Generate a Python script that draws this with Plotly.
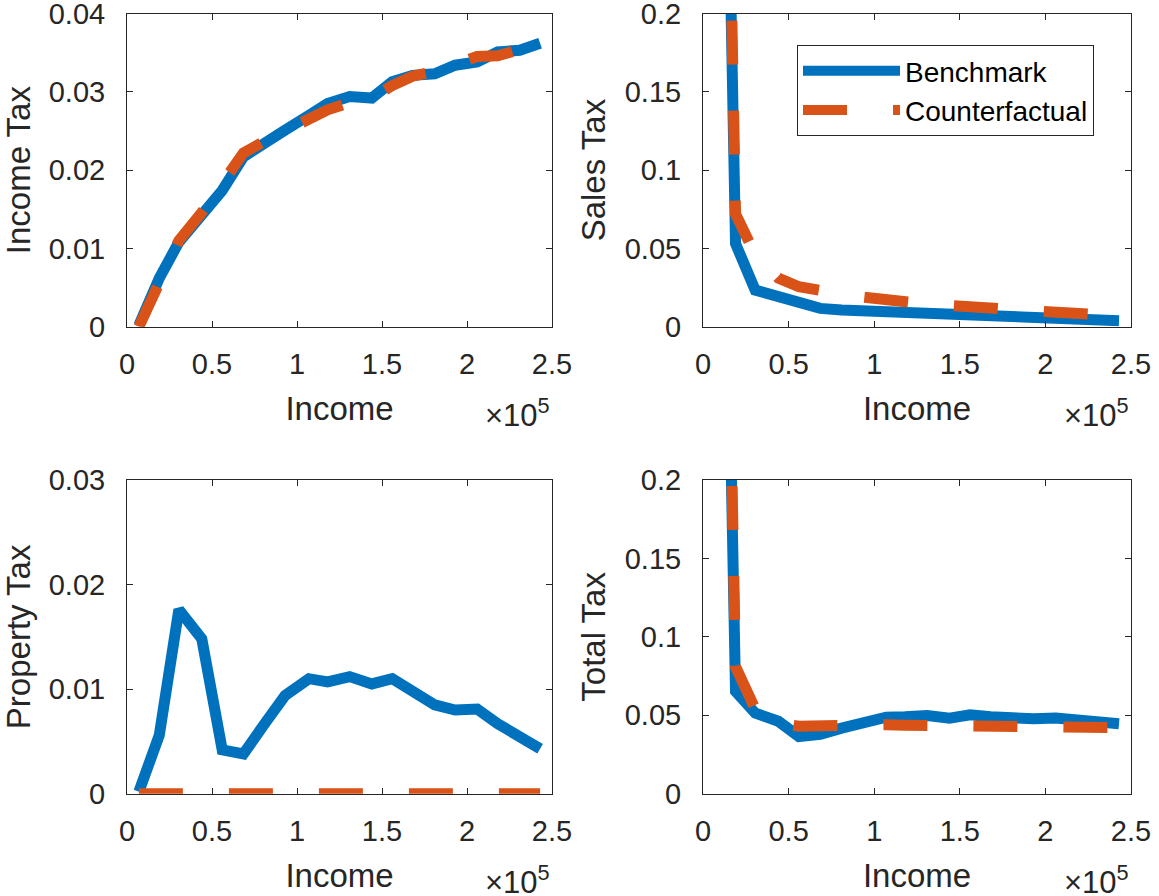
import plotly.graph_objects as go

# ---------------- data ----------------
income = [7000, 19000, 30500, 44000, 56000, 68500, 81000, 93000, 107000, 118000,
          131000, 144000, 156000, 168000, 181000, 193000, 206000, 218000, 231000, 243000]

income_tax_bench = [0.0002, 0.0062, 0.0108, 0.0145, 0.0174, 0.0217, 0.0236, 0.0251, 0.0270, 0.0285,
                    0.0294, 0.0292, 0.0313, 0.0321, 0.0323, 0.0334, 0.0338, 0.0351, 0.0353, 0.0362]
income_tax_cf = [0.0000, 0.0060, 0.0110, 0.0146, 0.0182, 0.0222, 0.0237, 0.0251, 0.0265, 0.0277,
                 0.0286, 0.0292, 0.0308, 0.0320, 0.0326, 0.0335, 0.0345, 0.0346, 0.0352, 0.0361]

sales_tax_bench = [0.74, 0.053, 0.0234, 0.0190, 0.0140, 0.0117, 0.0106, 0.0100, 0.0091, 0.0085,
                   0.0079, 0.0072, 0.0068, 0.0064, 0.0060, 0.0055, 0.0051, 0.0047, 0.0043, 0.0038]
sales_tax_cf = [0.77, 0.072, 0.046, 0.031, 0.0255, 0.0225, 0.0210, 0.0190, 0.0168, 0.0155,
                0.0145, 0.0135, 0.0127, 0.0118, 0.0107, 0.0097, 0.0089, 0.0080, 0.0074, 0.0068]

property_tax_bench = [0.0002, 0.0056, 0.0176, 0.0148, 0.0042, 0.0038, 0.0067, 0.0094, 0.0110, 0.0107,
                      0.0112, 0.0105, 0.0110, 0.0097, 0.0085, 0.0080, 0.0081, 0.0067, 0.0054, 0.0043]
property_tax_cf = [0.0] * 20

total_tax_bench = [0.74, 0.0652, 0.0514, 0.0462, 0.0365, 0.0378, 0.0418, 0.0458, 0.0488, 0.0490,
                   0.0499, 0.0482, 0.0503, 0.0490, 0.0478, 0.0478, 0.0482, 0.0467, 0.0456, 0.0446]
total_tax_cf = [0.77, 0.081, 0.054, 0.045, 0.0430, 0.0435, 0.0440, 0.0442, 0.0440, 0.0437,
                0.0436, 0.0434, 0.0433, 0.0433, 0.0432, 0.0430, 0.0428, 0.0425, 0.0423, 0.0422]

x_tickvals = [0, 50000, 100000, 150000, 200000, 250000]
x_ticktext = ["0", "0.5", "1", "1.5", "2", "2.5"]

y_ticks_income = [0, 0.01, 0.02, 0.03, 0.04]
y_text_income = ["0", "0.01", "0.02", "0.03", "0.04"]
y_ticks_sales = [0, 0.05, 0.1, 0.15, 0.2]
y_text_sales = ["0", "0.05", "0.1", "0.15", "0.2"]
y_ticks_property = [0, 0.01, 0.02, 0.03]
y_text_property = ["0", "0.01", "0.02", "0.03"]
y_ticks_total = [0, 0.05, 0.1, 0.15, 0.2]
y_text_total = ["0", "0.05", "0.1", "0.15", "0.2"]

panels = [
    ("Income Tax", income_tax_bench, income_tax_cf, [0, 0.04], y_ticks_income, y_text_income),
    ("Sales Tax", sales_tax_bench, sales_tax_cf, [0, 0.2], y_ticks_sales, y_text_sales),
    ("Property Tax", property_tax_bench, property_tax_cf, [0, 0.03], y_ticks_property, y_text_property),
    ("Total Tax", total_tax_bench, total_tax_cf, [0, 0.2], y_ticks_total, y_text_total),
]

# ---------------- style ----------------
W, H = 1159, 896
BLUE = "#0072BD"
ORANGE = "#D95319"
AX = "#262626"
FONT = "Liberation Sans, Arial, Helvetica, sans-serif"

# axis boxes in pixels: (left, right, top, bottom)
boxes = [(127, 552, 13.5, 326.7), (703, 1131, 13.5, 326.7),
         (127, 552, 480, 793.7), (703, 1131, 480, 793.7)]

fig = go.Figure()
layout = dict(width=W, height=H, margin=dict(l=0, r=0, t=0, b=0),
              paper_bgcolor="white", plot_bgcolor="white",
              font=dict(family=FONT, color=AX, size=29),
              annotations=[])

for i, (name, bench, cf, yr, yt, ytt) in enumerate(panels):
    k = "" if i == 0 else str(i + 1)
    l, r, t, b = boxes[i]
    show = (i == 1)
    fig.add_trace(go.Scatter(x=income, y=bench, mode="lines", name="Benchmark",
                             line=dict(color=BLUE, width=11), showlegend=show,
                             xaxis="x" + k, yaxis="y" + k))
    fig.add_trace(go.Scatter(x=income, y=cf, mode="lines", name="Counterfactual",
                             line=dict(color=ORANGE, width=11, dash="44px,46px"),
                             showlegend=show,
                             xaxis="x" + k, yaxis="y" + k))
    common = dict(showline=True, linecolor=AX, linewidth=1, mirror="ticks",
                  ticks="inside", ticklen=6, tickcolor=AX, tickwidth=1,
                  showgrid=False, zeroline=False, automargin=False,
                  ticklabeloverflow="allow",
                  tickfont=dict(family=FONT, size=29, color=AX))
    layout["xaxis" + k] = dict(common, domain=[l / W, r / W], anchor="y" + k,
                               range=[0, 250000], tickvals=x_tickvals, ticktext=x_ticktext,
                               ticklabelstandoff=11,
                               title=dict(text="Income", font=dict(size=33, color=AX), standoff=18))
    layout["yaxis" + k] = dict(common, domain=[1 - b / H, 1 - t / H], anchor="x" + k,
                               range=yr, tickvals=yt, ticktext=ytt, ticklabelstandoff=15,
                               title=dict(text=name, font=dict(size=33, color=AX), standoff=9))
    layout["annotations"].append(dict(
        text="×10<sup>5</sup>", xref="x" + k + " domain", yref="y" + k + " domain",
        x=1.0, y=-86 / (b - t), xanchor="right", yanchor="middle",
        showarrow=False, font=dict(family=FONT, size=31, color=AX)))

layout["legend"] = dict(x=797 / W, y=1 - 45 / H, xanchor="left", yanchor="top",
                        bgcolor="white", bordercolor=AX, borderwidth=1,
                        font=dict(family=FONT, size=28, color="black"),
                        itemwidth=97, tracegroupgap=0)

fig.update_layout(**layout)
fig.write_html("out.html", config={"displayModeBar": False},
               post_script="document.body.style.margin='0';document.body.style.padding='0';")
